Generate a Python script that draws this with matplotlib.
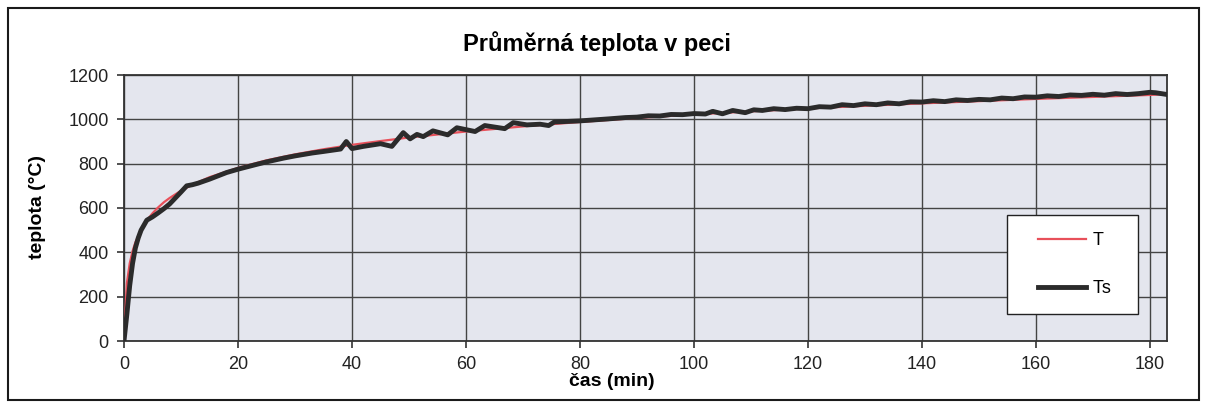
import matplotlib.pyplot as plt
from matplotlib.patches import Rectangle
from matplotlib.legend_handler import HandlerLine2D

plt.rcParams['font.family'] = ['Liberation Sans', 'DejaVu Sans']

# =========================
# Data
# =========================
# T - standard fire curve (red)
t_red = [0, 0.5, 1, 1.5, 2, 3, 4, 5, 6, 7, 8, 10, 12, 15, 20, 25, 30, 35, 40,
         45, 50, 60, 70, 80, 90, 100, 110, 120, 130, 140, 150, 160, 170, 180, 183]
T_red = [20, 260, 350, 405, 445, 502, 544, 576, 603, 626, 645, 678, 705, 739,
         781, 815, 842, 865, 885, 902, 918, 945, 968, 988, 1006, 1022, 1036,
         1049, 1061, 1072, 1082, 1092, 1101, 1110, 1113]

# Ts - measured furnace temperature (black)
t_black = [0, 0.5, 1, 1.5, 2, 2.5, 3, 4, 5, 6, 7, 8, 9, 10, 11, 12, 13, 15, 18,
           20, 23, 25, 28, 30, 33, 35, 38, 39, 40, 42, 45, 47, 49, 50.2, 51.4,
           52.5, 54.2, 56.8, 58.4, 61.6, 63.3, 66.8, 68.3, 70.7, 73, 74.5, 75.5,
           80, 85, 88, 90, 92, 94, 96, 98, 100, 102, 103.3, 105, 106.8, 109,
           110.5, 112, 114, 116, 118, 120, 122, 124, 126, 128, 130, 132, 134,
           136, 138, 140, 142, 144, 146, 148, 150, 152, 154, 156, 158, 160, 162,
           164, 166, 168, 170, 172, 174, 176, 178, 180, 181, 183]
T_black = [0, 120, 250, 350, 420, 465, 500, 545, 560, 578, 597, 618, 645, 672,
           700, 705, 712, 730, 760, 775, 795, 808, 825, 835, 848, 855, 866, 900,
           868, 878, 890, 878, 940, 912, 932, 922, 948, 930, 962, 945, 972, 958,
           985, 975, 978, 972, 988, 993, 1002, 1008, 1010, 1016, 1015, 1022,
           1021, 1026, 1024, 1036, 1025, 1040, 1030, 1043, 1040, 1048, 1044,
           1050, 1048, 1057, 1055, 1066, 1062, 1070, 1066, 1074, 1070, 1079,
           1078, 1084, 1080, 1088, 1085, 1090, 1088, 1096, 1093, 1101, 1100,
           1106, 1103, 1110, 1108, 1113, 1109, 1116, 1112, 1116, 1122, 1120, 1112]

x_ticks = list(range(0, 181, 20))
y_ticks = list(range(0, 1201, 200))


class ShiftedLine(HandlerLine2D):
    # legend line starts a bit in from the left like in Excel
    def get_xdata(self, legend, xdescent, ydescent, width, height, fontsize):
        x0 = -xdescent + width * 0.22
        x1 = -xdescent + width
        return [x0, x1], [x0, x1]


# =========================
# Figure
# =========================
fig = plt.figure(figsize=(12.07, 4.07), dpi=100)
ax = fig.add_axes([124 / 1207, 1 - 341 / 407, 1043 / 1207, 266 / 407])
ax.set_facecolor("#e4e6ee")

ax.plot(t_red, T_red, color="#e8505a", lw=1.6, label="T", zorder=3)
ax.plot(t_black, T_black, color="#2b2b2b", lw=3.5, label="Ts  ", zorder=4,
        solid_joinstyle="round")

ax.set_xlim(0, 183)
ax.set_ylim(0, 1200)
ax.set_xticks(x_ticks)
ax.set_yticks(y_ticks)
ax.grid(True, color="#444444", lw=1.0)
ax.set_axisbelow(True)
for s in ax.spines.values():
    s.set_color("#333333")
    s.set_linewidth(1.3)
ax.tick_params(axis="both", direction="out", length=5, width=1.2,
               color="#333333", labelsize=13, labelcolor="#222222", pad=6)

fig.text(37 / 1207, 1 - 207 / 407, "teplota (°C)", fontsize=14,
         fontweight="bold", ha="center", va="center", rotation=90)
fig.text(612 / 1207, 1 - 381 / 407, "čas (min)", fontsize=14,
         fontweight="bold", ha="center", va="center")
fig.text(597 / 1207, 1 - 44 / 407, "Průměrná teplota v peci", fontsize=17,
         fontweight="bold", ha="center", va="center")

leg = ax.legend(loc="upper left", bbox_to_anchor=(1007 / 1207, 1 - 215 / 407),
                bbox_transform=fig.transFigure, frameon=True, fancybox=False,
                edgecolor="#222222", facecolor="white", framealpha=1,
                fontsize=13, handlelength=3.4, handletextpad=0.4,
                labelspacing=1.7, borderpad=0.95, borderaxespad=0,
                handler_map={plt.Line2D: ShiftedLine()})
leg.get_frame().set_linewidth(1.0)

# outer chart border
fig.patches.append(Rectangle((8 / 1207, 7 / 407), 1191 / 1207, 392 / 407,
                             transform=fig.transFigure, fill=False,
                             edgecolor="#1a1a1a", lw=1.5))

fig.savefig("out.png", dpi=100)
